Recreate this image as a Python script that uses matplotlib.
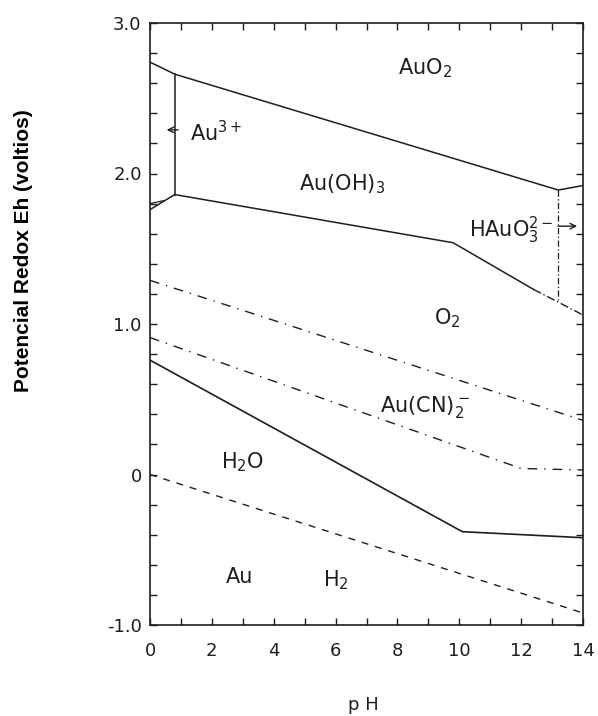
import matplotlib
matplotlib.use("Agg")
import matplotlib.pyplot as plt
from matplotlib.ticker import MultipleLocator

# boundaries (pH, Eh in volts)
auo2_ph = [0, 0.8, 13.2, 14]
auo2_eh = [2.74, 2.66, 1.89, 1.92]

au3_vert_ph = [0.8, 0.8]
au3_vert_eh = [2.66, 1.86]

au3_low_ph = [0, 0.8]
au3_low_eh = [1.76, 1.86]

au3_small_ph = [0, 0.45]
au3_small_eh = [1.80, 1.82]

oh3_ph = [0.8, 9.8, 12.4]
oh3_eh = [1.86, 1.54, 1.23]

oh3_tail_ph = [12.4, 14]
oh3_tail_eh = [1.23, 1.06]

hauo3_ph = [13.2, 13.2]
hauo3_eh = [1.89, 1.15]

o2_ph = [0, 14]
o2_eh = [1.29, 0.36]

cn_ph = [0, 12.0, 14]
cn_eh = [0.91, 0.04, 0.03]

au_ph = [0, 10.1, 14]
au_eh = [0.76, -0.38, -0.42]

h2_ph = [0, 14]
h2_eh = [0.0, -0.92]

labels = [("AuO$_2$", 8.9, 2.70), ("Au(OH)$_3$", 6.2, 1.93),
          ("O$_2$", 9.6, 1.04), ("Au(CN)$_2^-$", 8.9, 0.45),
          ("H$_2$O", 3.0, 0.08), ("Au", 2.9, -0.68), ("H$_2$", 6.0, -0.70)]

xticks = [0, 2, 4, 6, 8, 10, 12, 14]
yticks = [3.0, 2.0, 1.0, 0, -1.0]
yticklabels = ["3.0", "2.0", "1.0", "0", "-1.0"]

ink = "#1e1e1e"
fig = plt.figure(figsize=(5.98, 7.16), dpi=100)
ax = fig.add_axes([150/598, 1-625/716, 433/598, 602/716])

ax.plot(auo2_ph, auo2_eh, color=ink, lw=1.1)
ax.plot(au3_vert_ph, au3_vert_eh, color=ink, lw=1.1)
ax.plot(au3_low_ph, au3_low_eh, color=ink, lw=1.1)
ax.plot(au3_small_ph, au3_small_eh, color=ink, lw=0.9)
ax.plot(oh3_ph, oh3_eh, color=ink, lw=1.1)
ax.plot(oh3_tail_ph, oh3_tail_eh, color=ink, lw=1.0, dashes=(6, 2, 1, 2))
ax.plot(hauo3_ph, hauo3_eh, color=ink, lw=0.9, dashes=(5, 2, 1, 2))
ax.plot(o2_ph, o2_eh, color=ink, lw=1.0, dashes=(7, 5, 1, 5))
ax.plot(cn_ph, cn_eh, color=ink, lw=1.0, dashes=(7, 5, 1, 5))
ax.plot(au_ph, au_eh, color=ink, lw=1.2)
ax.plot(h2_ph, h2_eh, color=ink, lw=1.0, dashes=(5, 5))

for txt, x, y in labels:
    ax.text(x, y, txt, fontsize=15, color=ink, ha="center", va="center")

# Au3+ and HAuO3 2- with arrows
ax.text(1.3, 2.27, "Au$^{3+}$", fontsize=15, color=ink, ha="left", va="center")
ax.annotate("", xy=(0.45, 2.29), xytext=(1.0, 2.29),
            arrowprops=dict(arrowstyle="->", color=ink, lw=1.0))
ax.text(10.3, 1.62, "HAuO$_3^{2-}$", fontsize=15, color=ink, ha="left", va="center")
ax.annotate("", xy=(13.9, 1.65), xytext=(13.1, 1.65),
            arrowprops=dict(arrowstyle="->", color=ink, lw=1.0))

ax.set_xlim(0, 14)
ax.set_ylim(-1.0, 3.0)
ax.set_xticks(xticks)
ax.set_yticks(yticks)
ax.set_yticklabels(yticklabels)
ax.xaxis.set_minor_locator(MultipleLocator(1))
ax.yaxis.set_minor_locator(MultipleLocator(0.2))
ax.tick_params(which="both", direction="in", top=True, right=True,
               length=5, width=1.0, color=ink)
ax.tick_params(axis="x", labelsize=13, pad=12, labelcolor=ink)
ax.tick_params(axis="y", labelsize=13, pad=6, labelcolor=ink)
for s in ax.spines.values():
    s.set_linewidth(1.2)
    s.set_color(ink)

fig.text(363/598, 1-705/716, "p H", fontsize=13, color=ink, ha="center", va="center")
fig.text(24/598, 1-251/716, "Potencial Redox Eh (voltios)", fontsize=15,
         family="Liberation Sans", fontweight="bold", rotation=90,
         ha="center", va="center")

fig.savefig("out.png", dpi=100)
